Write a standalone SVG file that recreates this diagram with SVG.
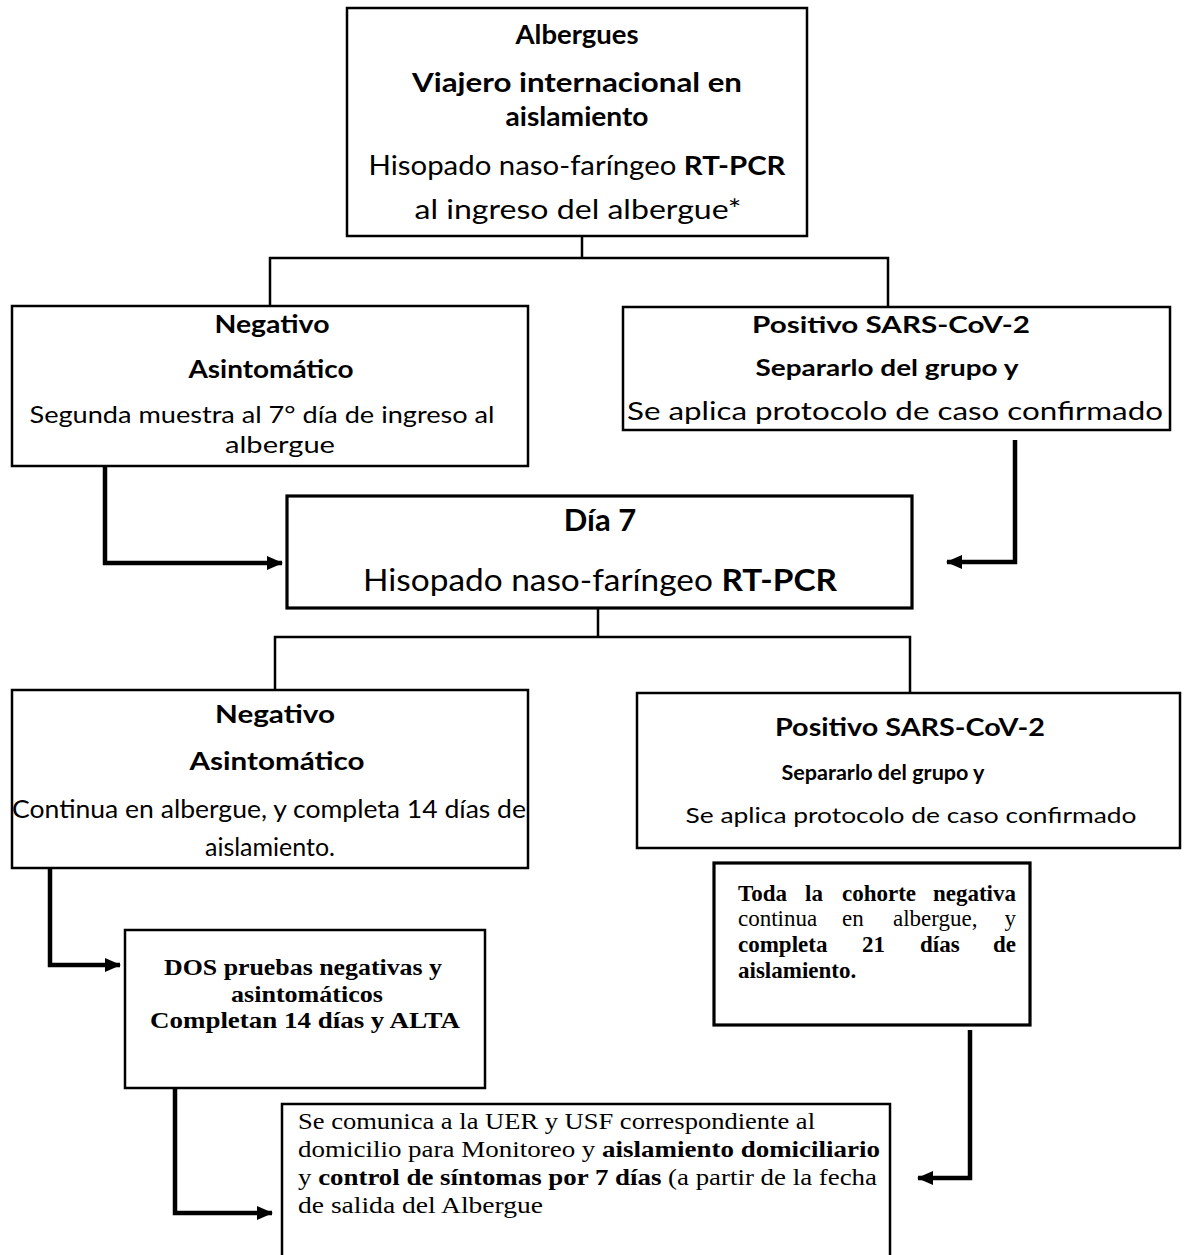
<svg xmlns="http://www.w3.org/2000/svg" width="1184" height="1255" viewBox="0 0 1184 1255">
<defs>
<marker id="ah" markerUnits="userSpaceOnUse" markerWidth="16" markerHeight="14" refX="15" refY="7" orient="auto">
<path d="M0,0 L16,7 L0,14 Z" fill="#000"/>
</marker>
<style>
.box{fill:#fff;stroke:#000;stroke-width:2.5}
.thick{stroke-width:3.2}
.tree{fill:none;stroke:#000;stroke-width:2.5}
.arr{fill:none;stroke:#000;stroke-width:4.5;marker-end:url(#ah)}
.s{font-family:Lato,"Open Sans","Liberation Sans",sans-serif;fill:#000;text-anchor:middle}
.b{font-weight:bold}
.t{font-family:"Liberation Serif","Times New Roman",serif;fill:#000}
</style>
</defs>
<rect width="1184" height="1255" fill="#fff"/>

<g id="connectors">
<polyline class="tree" points="582,236 582,258"/>
<polyline class="tree" points="270,306 270,258 888,258 888,307"/>
<polyline class="arr" points="105,466 105,563 282,563"/>
<polyline class="arr" points="1015,440 1015,562 947,562"/>
<polyline class="tree" points="598,608 598,637"/>
<polyline class="tree" points="275,690 275,637 910,637 910,693"/>
<polyline class="arr" points="50,868 50,965 120,965"/>
<polyline class="arr" points="175,1088 175,1213 272,1213"/>
<polyline class="arr" points="970,1030 970,1178 918,1178"/>
</g>

<g id="n-top">
<rect class="box" x="347" y="8" width="460" height="228"/>
<text class="s b" x="577" y="44" font-size="27" textLength="123" lengthAdjust="spacingAndGlyphs">Albergues</text>
<text class="s b" x="577" y="92" font-size="27" textLength="330" lengthAdjust="spacingAndGlyphs">Viajero internacional en</text>
<text class="s b" x="577" y="126" font-size="27" textLength="143" lengthAdjust="spacingAndGlyphs">aislamiento</text>
<text class="s" x="577" y="175" font-size="27" textLength="417" lengthAdjust="spacingAndGlyphs">Hisopado naso-faríngeo <tspan class="b">RT-PCR</tspan></text>
<text class="s" x="578" y="219" font-size="27" textLength="327" lengthAdjust="spacingAndGlyphs">al ingreso del albergue*</text>
</g>

<g id="n-neg1">
<rect class="box" x="12" y="306" width="516" height="160"/>
<text class="s b" x="272" y="333" font-size="24" textLength="115" lengthAdjust="spacingAndGlyphs">Negativo</text>
<text class="s b" x="271" y="378" font-size="24" textLength="165" lengthAdjust="spacingAndGlyphs">Asintomático</text>
<text class="s" x="262" y="423" font-size="24" textLength="465" lengthAdjust="spacingAndGlyphs">Segunda muestra al 7° día de ingreso al</text>
<text class="s" x="280" y="453" font-size="24" textLength="110" lengthAdjust="spacingAndGlyphs">albergue</text>
</g>

<g id="n-pos1">
<rect class="box" x="623" y="307" width="547" height="123"/>
<text class="s b" x="891" y="333" font-size="22" textLength="278" lengthAdjust="spacingAndGlyphs">Positivo SARS-CoV-2</text>
<text class="s b" x="887" y="376" font-size="23" textLength="263" lengthAdjust="spacingAndGlyphs">Separarlo del grupo y</text>
<text class="s" x="895" y="420" font-size="25" textLength="536" lengthAdjust="spacingAndGlyphs">Se aplica protocolo de caso confirmado</text>
</g>

<g id="n-dia7">
<rect class="box thick" x="287" y="496" width="625" height="112"/>
<text class="s b" x="600" y="531" font-size="31">Día 7</text>
<text class="s" x="600" y="591" font-size="31" textLength="474" lengthAdjust="spacingAndGlyphs">Hisopado naso-faríngeo <tspan class="b">RT-PCR</tspan></text>
</g>

<g id="n-neg2">
<rect class="box" x="12" y="690" width="516" height="178"/>
<text class="s b" x="275" y="723" font-size="25" textLength="120" lengthAdjust="spacingAndGlyphs">Negativo</text>
<text class="s b" x="277" y="770" font-size="25" textLength="175" lengthAdjust="spacingAndGlyphs">Asintomático</text>
<text class="s" x="269" y="818" font-size="25" textLength="514" lengthAdjust="spacingAndGlyphs">Continua en albergue, y completa 14 días de</text>
<text class="s" x="270" y="856" font-size="25" textLength="130" lengthAdjust="spacingAndGlyphs">aislamiento.</text>
</g>

<g id="n-pos2">
<rect class="box" x="637" y="693" width="543" height="155"/>
<text class="s b" x="910" y="736" font-size="25" textLength="270" lengthAdjust="spacingAndGlyphs">Positivo SARS-CoV-2</text>
<text class="s b" x="883" y="780" font-size="20" textLength="203" lengthAdjust="spacingAndGlyphs">Separarlo del grupo y</text>
<text class="s" x="911" y="823" font-size="22" textLength="451" lengthAdjust="spacingAndGlyphs">Se aplica protocolo de caso confirmado</text>
</g>

<g id="n-toda">
<rect class="box thick" x="714" y="863" width="316" height="162"/>
<g class="t b" font-size="23">
<text x="738" y="901">Toda</text><text x="805" y="901">la</text><text x="842" y="901">cohorte</text><text x="1016" y="901" text-anchor="end">negativa</text>
</g>
<g class="t" font-size="23">
<text x="738" y="926">continua</text><text x="842" y="926">en</text><text x="893" y="926">albergue,</text><text x="1016" y="926" text-anchor="end">y</text>
</g>
<g class="t b" font-size="23">
<text x="738" y="952">completa</text><text x="862" y="952">21</text><text x="920" y="952">días</text><text x="1016" y="952" text-anchor="end">de</text>
<text x="738" y="978">aislamiento.</text>
</g>
</g>

<g id="n-dos">
<rect class="box" x="125" y="930" width="360" height="158"/>
<text class="t b" x="303" y="975" font-size="24" text-anchor="middle" textLength="278" lengthAdjust="spacingAndGlyphs">DOS pruebas negativas y</text>
<text class="t b" x="307" y="1002" font-size="24" text-anchor="middle" textLength="152" lengthAdjust="spacingAndGlyphs">asintomáticos</text>
<text class="t b" x="305" y="1028" font-size="24" text-anchor="middle" textLength="310" lengthAdjust="spacingAndGlyphs">Completan 14 días y ALTA</text>
</g>

<g id="n-final">
<rect class="box" x="282" y="1104" width="608" height="170"/>
<text class="t" x="298" y="1129" font-size="23" textLength="517" lengthAdjust="spacingAndGlyphs">Se comunica a la UER y USF correspondiente al</text>
<text class="t" x="298" y="1157" font-size="23" textLength="582" lengthAdjust="spacingAndGlyphs">domicilio para Monitoreo y <tspan font-weight="bold">aislamiento domiciliario</tspan></text>
<text class="t" x="298" y="1185" font-size="23" textLength="579" lengthAdjust="spacingAndGlyphs">y <tspan font-weight="bold">control de síntomas por 7 días</tspan> (a partir de la fecha</text>
<text class="t" x="298" y="1213" font-size="23" textLength="245" lengthAdjust="spacingAndGlyphs">de salida del Albergue</text>
</g>
</svg>
